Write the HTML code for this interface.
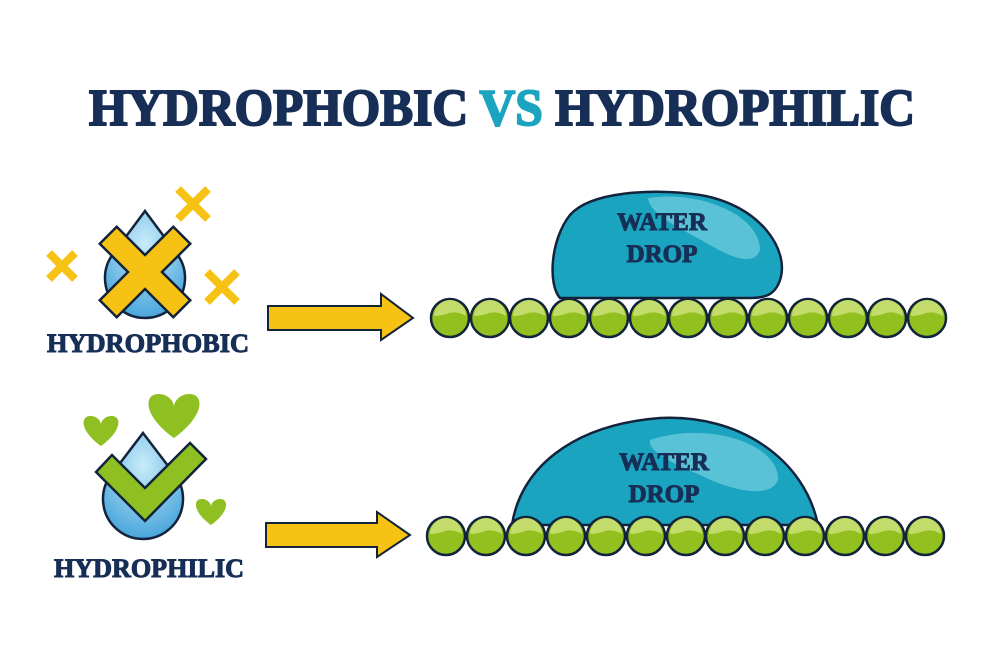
<!DOCTYPE html>
<html><head><meta charset="utf-8"><style>
html,body{margin:0;padding:0;background:#fff;}
svg{display:block;}
text{font-family:"Liberation Serif",serif;font-weight:bold;}
</style></head><body>
<svg width="1001" height="667" viewBox="0 0 1001 667" xmlns="http://www.w3.org/2000/svg">
<defs>
<radialGradient id="dg" cx="0.5" cy="0.3" r="0.7"><stop offset="0" stop-color="#c9ecfa"/><stop offset="1" stop-color="#4aa6dc"/></radialGradient>
<g id="bead">
<circle r="19" fill="#92c01f" stroke="#13233b" stroke-width="2.5"/>
<path d="M-16,-2 A16,16 0 0 1 16,-2 Q6,-8 -4,-4 Q-10,-2 -16,-2Z" fill="#c3dc6c"/>
</g>
<path id="heart" d="M0,10 C-14,0 -14,-10 -7,-10 C-3,-10 0,-7 0,-4 C0,-7 3,-10 7,-10 C14,-10 14,0 0,10Z"/>
</defs>
<text x="502" y="125" font-size="52" text-anchor="middle" fill="#172f56" stroke="#172f56" stroke-width="2" textLength="826" lengthAdjust="spacingAndGlyphs">HYDROPHOBIC <tspan fill="#1aa4c0" stroke="#1aa4c0">VS</tspan> HYDROPHILIC</text>

<!-- hydrophobic icon -->
<g stroke-linecap="butt">
<path d="M49,253 L75,279 M75,253 L49,279" stroke="#f6c314" stroke-width="8"/>
<path d="M178,189 L208,219 M208,189 L178,219" stroke="#f6c314" stroke-width="8"/>
<path d="M207,272 L237,302 M237,272 L207,302" stroke="#f6c314" stroke-width="8"/>
</g>
<path d="M145,211 L177,254 A40,40 0 1 1 113,254 Z" fill="url(#dg)" stroke="#13233b" stroke-width="2.5"/>
<path transform="translate(145,272) rotate(45)" d="M-12,-52 L12,-52 L12,-12 L52,-12 L52,12 L12,12 L12,52 L-12,52 L-12,12 L-52,12 L-52,-12 L-12,-12 Z" fill="#f6c314" stroke="#13233b" stroke-width="2.5"/>
<text x="148" y="352" font-size="26" text-anchor="middle" fill="#172f56" stroke="#172f56" stroke-width="1" textLength="202" lengthAdjust="spacingAndGlyphs">HYDROPHOBIC</text>

<!-- arrow 1 -->
<path d="M268,306 L381,306 L381,294 L413,318 L381,340 L381,330 L268,330 Z" fill="#f6c314" stroke="#13233b" stroke-width="2"/>

<!-- drop 1 -->
<path d="M560,298 C548,285 550,240 570,215 C590,192 650,188 700,195 C760,205 790,250 780,280 C775,295 765,298 750,298 Z" fill="#1aa4c0" stroke="#13233b" stroke-width="2.5"/>
<path d="M648,198 C700,190 760,215 760,250 C755,265 735,260 710,245 C680,228 650,215 648,198Z" fill="#5ac2d6"/>
<text x="662" y="230" font-size="25" text-anchor="middle" fill="#172f56" stroke="#172f56" stroke-width="1">WATER</text>
<text x="662" y="262" font-size="25" text-anchor="middle" fill="#172f56" stroke="#172f56" stroke-width="1">DROP</text>
<g>
<use href="#bead" x="450" y="318"/><use href="#bead" x="490" y="318"/><use href="#bead" x="529" y="318"/><use href="#bead" x="569" y="318"/><use href="#bead" x="609" y="318"/><use href="#bead" x="649" y="318"/><use href="#bead" x="688" y="318"/><use href="#bead" x="728" y="318"/><use href="#bead" x="768" y="318"/><use href="#bead" x="808" y="318"/><use href="#bead" x="848" y="318"/><use href="#bead" x="887" y="318"/><use href="#bead" x="927" y="318"/>
</g>

<!-- hydrophilic icon -->
<g fill="#8dc020">
<use href="#heart" transform="translate(101,431) scale(1.5)"/>
<use href="#heart" transform="translate(174,416) scale(2.2)"/>
<use href="#heart" transform="translate(211,512) scale(1.3)"/>
</g>
<path d="M143,433 L175,475 A40,40 0 1 1 111,475 Z" fill="url(#dg)" stroke="#13233b" stroke-width="2.5"/>
<path d="M96,472 L112,455 L145,488 L190,443 L206,459 L145,521 Z" fill="#8dc020" stroke="#13233b" stroke-width="2.5"/>
<text x="149" y="577" font-size="26" text-anchor="middle" fill="#172f56" stroke="#172f56" stroke-width="1" textLength="190" lengthAdjust="spacingAndGlyphs">HYDROPHILIC</text>

<!-- arrow 2 -->
<path d="M266,523 L377,523 L377,512 L410,535 L377,557 L377,547 L266,547 Z" fill="#f6c314" stroke="#13233b" stroke-width="2"/>

<!-- drop 2 -->
<path d="M512,525 C520,470 570,425 660,418 C740,414 805,460 818,525 Z" fill="#1aa4c0" stroke="#13233b" stroke-width="2.5"/>
<path d="M650,440 C710,420 780,445 778,480 C770,500 730,490 700,475 C665,460 648,450 650,440Z" fill="#5ac2d6"/>
<text x="664" y="470" font-size="25" text-anchor="middle" fill="#172f56" stroke="#172f56" stroke-width="1">WATER</text>
<text x="664" y="502" font-size="25" text-anchor="middle" fill="#172f56" stroke="#172f56" stroke-width="1">DROP</text>
<g>
<use href="#bead" x="446" y="536"/><use href="#bead" x="486" y="536"/><use href="#bead" x="526" y="536"/><use href="#bead" x="566" y="536"/><use href="#bead" x="606" y="536"/><use href="#bead" x="646" y="536"/><use href="#bead" x="686" y="536"/><use href="#bead" x="725" y="536"/><use href="#bead" x="765" y="536"/><use href="#bead" x="805" y="536"/><use href="#bead" x="845" y="536"/><use href="#bead" x="885" y="536"/><use href="#bead" x="925" y="536"/>
</g>
</svg>
</body></html>
